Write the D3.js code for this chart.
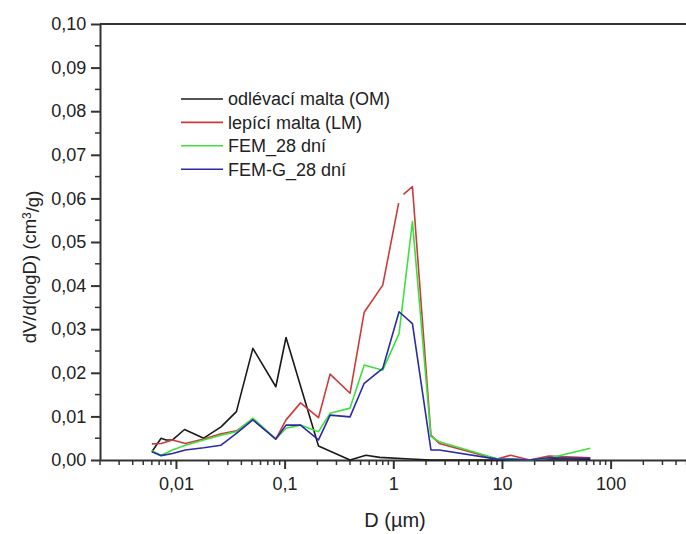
<!DOCTYPE html>
<html lang="cs">
<head>
  <meta charset="UTF-8">
  <title>dV/d(logD)</title>
  <script src="https://d3js.org/d3.v7.min.js"></script>
  <style>
    body { margin: 0; background: #fff; }
    svg { display: block; }
    text { font-family: Arial, "Liberation Sans", sans-serif; fill: #222; }
  </style>
</head>
<body>
  <svg width="686" height="534"></svg>

  <script>
    // data (D in micrometres, dV/d(logD) in cm3/g)
    const blackD = [0.006, 0.0073, 0.0081, 0.0093, 0.012, 0.018, 0.026, 0.036, 0.051, 0.083, 0.103, 0.205, 0.40, 0.56, 0.75, 1.3, 2.2, 9, 12, 18, 27, 65];
    const blackV = [0.0019, 0.005, 0.0046, 0.0046, 0.007, 0.005, 0.0076, 0.0111, 0.0256, 0.0168, 0.0281, 0.0032, 0.0, 0.0011, 0.0006, 0.0003, 0, 0, 0.0002, 0, 0.0003, 0.0002];

    const redD = [0.006, 0.0073, 0.0093, 0.0122, 0.018, 0.026, 0.036, 0.051, 0.083, 0.103, 0.14, 0.205, 0.262, 0.40, 0.54, 0.80, 1.12, 1.18, 1.24, 1.5, 2.22, 2.65, 9, 12, 18, 27, 65];
    const redV = [0.0037, 0.0038, 0.0046, 0.0038, 0.0048, 0.006, 0.0067, 0.0094, 0.0048, 0.0092, 0.0131, 0.0097, 0.0197, 0.0153, 0.0339, 0.0401, 0.0589, null, 0.0609, 0.0627, 0.0057, 0.0038, 0.0002, 0.0011, 0, 0.0009, 0.0005];

    const greenD = [0.006, 0.0073, 0.0093, 0.0122, 0.018, 0.026, 0.036, 0.051, 0.083, 0.103, 0.14, 0.205, 0.262, 0.40, 0.54, 0.80, 1.13, 1.5, 2.22, 2.65, 9, 18, 27, 65];
    const greenV = [0.0021, 0.0011, 0.0023, 0.0034, 0.0046, 0.0057, 0.0065, 0.0096, 0.0048, 0.0073, 0.008, 0.0065, 0.0107, 0.0119, 0.0218, 0.0206, 0.029, 0.0547, 0.0054, 0.0042, 0.0003, 0, 0.0004, 0.0027];

    const blueD = greenD;
    const blueV = [0.0019, 0.001, 0.0015, 0.0023, 0.0028, 0.0034, 0.0061, 0.0092, 0.0048, 0.008, 0.008, 0.0046, 0.0103, 0.0099, 0.0176, 0.021, 0.034, 0.0313, 0.0023, 0.0023, 0.0002, 0, 0.0005, 0.0004];

    const seriesNames = ["odlévací malta (OM)", "lepící malta (LM)", "FEM_28 dní", "FEM-G_28 dní"];
    const seriesColors = ["#1a1a1a", "#cc3b3b", "#3ee03e", "#2b2ba6"];

    const xMajor = [0.01, 0.1, 1, 10, 100];
    const yMajor = [0, 0.01, 0.02, 0.03, 0.04, 0.05, 0.06, 0.07, 0.08, 0.09, 0.10];

    const series = [
      { d: blackD, v: blackV },
      { d: redD, v: redV },
      { d: greenD, v: greenV },
      { d: blueD, v: blueV }
    ].map((s, i) => ({
      name: seriesNames[i],
      color: seriesColors[i],
      points: s.d.map((d, j) => ({ d: d, v: s.v[j] }))
    }));

    const svg = d3.select("svg");
    const plotLeft = 100, plotTop = 24, plotBottom = 460;

    const x = d3.scaleLog().domain([0.002, 2000]).range([plotLeft, 752]);
    const y = d3.scaleLinear().domain([0, 0.1]).range([plotBottom, plotTop]);

    const cz = d3.formatLocale({ decimal: ",", thousands: " ", grouping: [3], currency: ["", " Kč"] });
    const fmtY = cz.format(".2f");
    const fmtX = d => (d < 1 ? cz.format(",")(d) : String(d));

    const axisColor = "#333";

    // minor ticks
    const xMinor = [];
    for (let e = -3; e <= 3; e++) {
      for (let k = 2; k <= 9; k++) {
        const v = k * Math.pow(10, e);
        if (v >= 0.002 && v <= 2000) xMinor.push(v);
      }
    }
    const yMinor = d3.range(0.005, 0.1, 0.01);

    svg.append("g")
      .selectAll("line")
      .data(xMinor)
      .join("line")
      .attr("x1", d => x(d)).attr("x2", d => x(d))
      .attr("y1", plotBottom).attr("y2", plotBottom + 5)
      .attr("stroke", axisColor).attr("stroke-width", 1.5);

    svg.append("g")
      .selectAll("line")
      .data(yMinor)
      .join("line")
      .attr("x1", plotLeft - 5).attr("x2", plotLeft)
      .attr("y1", d => y(d)).attr("y2", d => y(d))
      .attr("stroke", axisColor).attr("stroke-width", 1.5);

    // major axes
    const xAxis = svg.append("g")
      .attr("transform", `translate(0,${plotBottom})`)
      .call(d3.axisBottom(x).tickValues(xMajor).tickFormat(fmtX).tickSize(9).tickSizeOuter(0));

    const yAxis = svg.append("g")
      .attr("transform", `translate(${plotLeft},0)`)
      .call(d3.axisLeft(y).tickValues(yMajor).tickFormat(fmtY).tickSize(9).tickSizeOuter(0));

    [xAxis, yAxis].forEach(g => {
      g.selectAll("path, line").attr("stroke", axisColor).attr("stroke-width", 2);
      g.selectAll("text").style("font-size", "18px").attr("fill", "#222");
    });
    xAxis.selectAll("text").attr("dy", "1.0em");
    yAxis.selectAll("text").attr("dx", "-0.1em");

    // top frame line
    svg.append("line")
      .attr("x1", plotLeft).attr("x2", 686)
      .attr("y1", plotTop).attr("y2", plotTop)
      .attr("stroke", axisColor).attr("stroke-width", 2);

    // curves
    const line = d3.line()
      .defined(p => p.v !== null)
      .x(p => x(p.d))
      .y(p => y(p.v));

    svg.append("g")
      .selectAll("path")
      .data(series)
      .join("path")
      .attr("d", s => line(s.points))
      .attr("fill", "none")
      .attr("stroke", s => s.color)
      .attr("stroke-width", 1.6)
      .attr("stroke-linejoin", "round");

    // legend
    const legend = svg.append("g").attr("transform", "translate(181,99)");
    const rows = legend.selectAll("g")
      .data(series)
      .join("g")
      .attr("transform", (s, i) => `translate(0,${i * 23.4})`);
    rows.append("line")
      .attr("x1", 0).attr("x2", 42)
      .attr("stroke", s => s.color).attr("stroke-width", 1.6);
    rows.append("text")
      .attr("x", 47).attr("dy", "0.35em")
      .style("font-size", "18px")
      .text(s => s.name);

    // axis titles
    svg.append("text")
      .attr("x", 395).attr("y", 527)
      .attr("text-anchor", "middle")
      .style("font-size", "20px")
      .text("D (\u00b5m)");

    const yTitle = svg.append("text")
      .attr("transform", "translate(36,267) rotate(-90)")
      .attr("text-anchor", "middle")
      .style("font-size", "18.5px");
    yTitle.append("tspan").text("dV/d(logD) (cm");
    yTitle.append("tspan").attr("dy", "-0.45em").style("font-size", "12px").text("3");
    yTitle.append("tspan").attr("dy", "0.45em").text("/g)");
  </script>
</body>
</html>
